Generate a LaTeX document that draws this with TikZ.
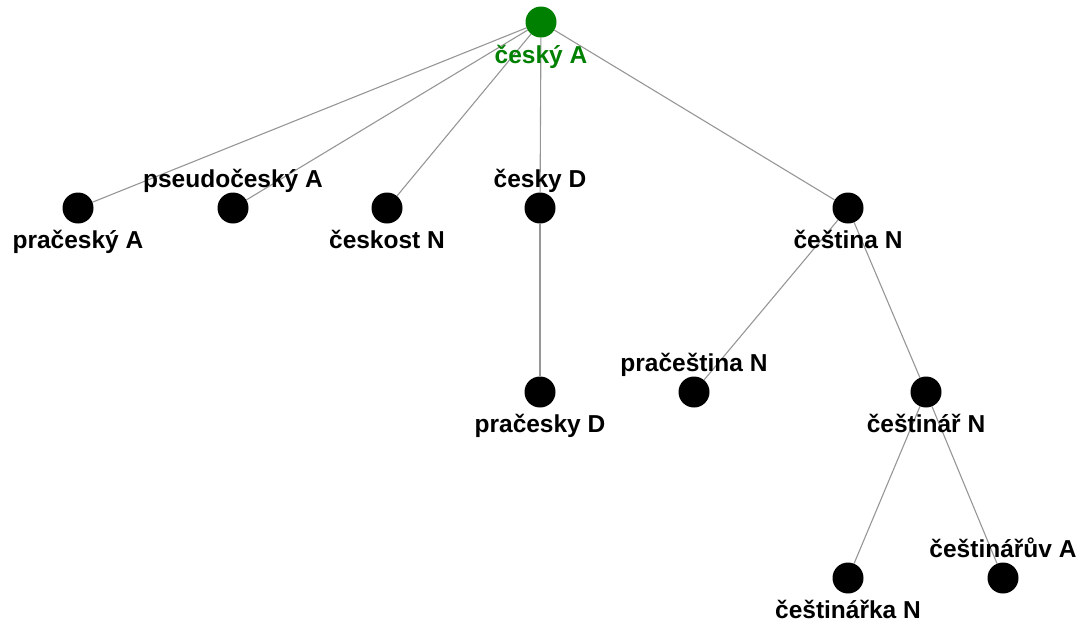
\documentclass[tikz,border=0pt]{standalone}
\usepackage{fontspec}
\setmainfont{Liberation Sans}
\usetikzlibrary{backgrounds}
\definecolor{rootgreen}{RGB}{0,128,0}
\definecolor{linkgray}{RGB}{150,150,150}
\tikzset{
  word/.style  = {circle, fill=black, minimum size=31pt, inner sep=0pt},
  root/.style  = {word, fill=rootgreen},
  link/.style  = {draw=linkgray, line width=1.1pt},
  every label/.style = {font=\bfseries\fontsize{24.5}{28}\selectfont, inner sep=0pt,
                        text height=17pt, text depth=5pt},
  up/.style    = {label distance=0pt},
  label distance=8pt
}

\begin{document}
\begin{tikzpicture}[x=1pt, y=-1pt]
  \useasboundingbox (0,0) rectangle (1081,622);
  % words
  \node[root] (cesky) at (541,22) [label={[text=rootgreen, label distance=9pt]below:český A}] {};
  \node[word] (pracesky) at (78,208) [label=below:pračeský A] {};
  \node[word] (pseudocesky) at (233,208) [label={[up]above:pseudočeský A}] {};
  \node[word] (ceskost) at (387,208) [label=below:českost N] {};
  \node[word] (ceskyD) at (540,208) [label={[up]above:česky D}] {};
  \node[word] (cestina) at (848,208) [label=below:čeština N] {};
  \node[word] (praceskyD) at (540,392) [label=below:pračesky D] {};
  \node[word] (pracestina) at (694,392) [label={[up]above:pračeština N}] {};
  \node[word] (cestinar) at (926,392) [label=below:češtinář N] {};
  \node[word] (cestinarka) at (848,578) [label=below:češtinářka N] {};
  \node[word] (cestinaruv) at (1003,578) [label={[up]above:češtinářův A}] {};
  % links
  \begin{scope}[on background layer]
    \foreach \w in {pracesky, pseudocesky, ceskost, ceskyD, cestina}
      \draw[link] (cesky) -- (\w);
    \draw[link] (ceskyD) -- (praceskyD);
    \draw[link] (cestina) -- (pracestina);
    \draw[link] (cestina) -- (cestinar);
    \draw[link] (cestinar) -- (cestinarka);
    \draw[link] (cestinar) -- (cestinaruv);
  \end{scope}
\end{tikzpicture}
\end{document}
